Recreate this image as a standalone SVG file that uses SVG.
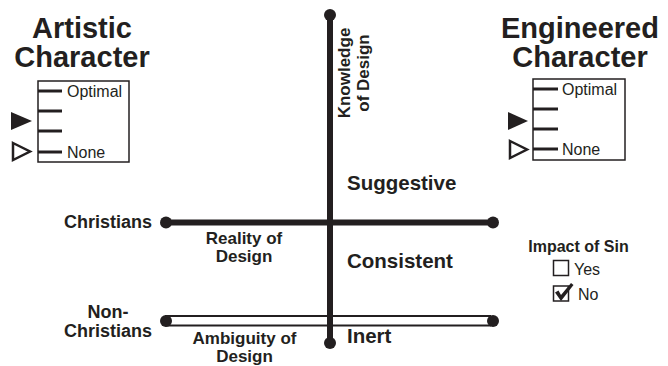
<svg xmlns="http://www.w3.org/2000/svg" width="668" height="366" viewBox="0 0 668 366">
<style>
text{font-family:"Liberation Sans",Arial,sans-serif;fill:#231f20}
.t{font-size:29px;font-weight:bold;text-anchor:middle}
.b{font-size:18px;font-weight:bold;text-anchor:middle}
.m{font-size:17px;font-weight:bold;text-anchor:middle}
.q{font-size:20.5px;font-weight:bold}
.s{font-size:16px}
.ax{stroke:#231f20;stroke-width:6;fill:none}
.tk{stroke:#231f20;stroke-width:3}
.dot{fill:#231f20}
.bx{fill:#fff;stroke:#231f20;stroke-width:1.5}
</style>
<rect width="668" height="366" fill="#fff"/>
<g id="artistic">
<text class="t" x="82" y="38">Artistic</text>
<text class="t" x="82" y="67">Character</text>
<rect class="bx" x="38" y="81" width="91" height="81"/>
<line class="tk" x1="38" y1="91" x2="62" y2="91"/>
<line class="tk" x1="38" y1="111" x2="62" y2="111"/>
<line class="tk" x1="38" y1="131" x2="62" y2="131"/>
<line class="tk" x1="38" y1="152" x2="62" y2="152"/>
<text class="s" x="67" y="97">Optimal</text>
<text class="s" x="67" y="157.5">None</text>
<polygon points="11,112 32,121 11,130" fill="#231f20"/>
<polygon points="13,143 30,151.5 13,160" fill="#fff" stroke="#231f20" stroke-width="2.5"/>
</g>
<g id="engineered">
<text class="t" x="580" y="38">Engineered</text>
<text class="t" x="580" y="67">Character</text>
<rect class="bx" x="533" y="79" width="92" height="81"/>
<line class="tk" x1="533" y1="89" x2="558" y2="89"/>
<line class="tk" x1="533" y1="109" x2="558" y2="109"/>
<line class="tk" x1="533" y1="129" x2="558" y2="129"/>
<line class="tk" x1="533" y1="149" x2="558" y2="149"/>
<text class="s" x="562" y="95">Optimal</text>
<text class="s" x="562" y="155">None</text>
<polygon points="508,112 528,121 508,130" fill="#231f20"/>
<polygon points="510,141 527,149.5 510,158" fill="#fff" stroke="#231f20" stroke-width="2.5"/>
</g>
<g id="connectors">
<line class="ax" x1="330" y1="15" x2="330" y2="343"/>
<circle class="dot" cx="330" cy="15" r="6"/>
<circle class="dot" cx="330" cy="343" r="6"/>
<line class="ax" x1="166" y1="222.5" x2="493" y2="222.5"/>
<circle class="dot" cx="166" cy="222.5" r="6"/>
<circle class="dot" cx="493" cy="222.5" r="6"/>
<rect x="166" y="316" width="324" height="9.5" fill="#fff" stroke="#231f20" stroke-width="2"/>
<line class="ax" x1="330" y1="310" x2="330" y2="330"/>
<circle class="dot" cx="166" cy="321" r="6"/>
<circle class="dot" cx="493" cy="321" r="6"/>
</g>
<g id="knowledge">
<text class="m" transform="translate(350,73) rotate(-90)">Knowledge</text>
<text class="m" transform="translate(369,73) rotate(-90)">of Design</text>
</g>
<g id="christians">
<text class="b" x="108" y="228">Christians</text>
<text class="m" x="244" y="243.5">Reality of</text>
<text class="m" x="244" y="262">Design</text>
</g>
<g id="nonchristians">
<text class="b" x="108" y="318">Non-</text>
<text class="b" x="108" y="336.5">Christians</text>
<text class="m" x="244.5" y="344">Ambiguity of</text>
<text class="m" x="244.5" y="361.5">Design</text>
</g>
<g id="levels">
<text class="q" x="347" y="190">Suggestive</text>
<text class="q" x="347" y="268">Consistent</text>
<text class="q" x="347" y="343">Inert</text>
</g>
<g id="impact">
<text x="578.5" y="252" font-size="16" font-weight="bold" text-anchor="middle">Impact of Sin</text>
<rect class="bx" x="553.5" y="260.5" width="15" height="15"/>
<text class="s" x="574" y="274.5">Yes</text>
<rect class="bx" x="553.5" y="286" width="15" height="15"/>
<path d="M555,292.5 L558.5,290.5 L561,295 L571,283 L573.5,285 L561,301 Z" fill="#231f20"/>
<text class="s" x="578" y="300">No</text>
</g>
</svg>
